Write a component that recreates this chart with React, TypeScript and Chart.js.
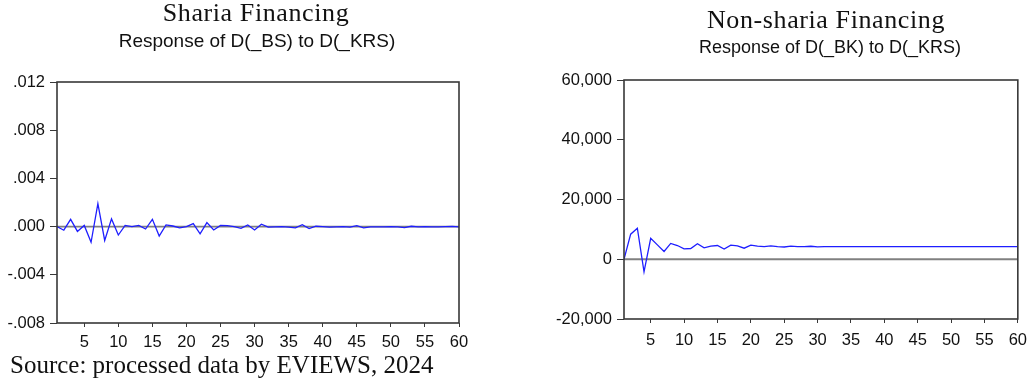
import React, { useEffect, useRef } from "react";
import { Chart, registerables } from "chart.js";

Chart.register(...registerables);

// ---- data ----
const periods: number[] = Array.from({ length: 60 }, (_, i) => i + 1);

const shariaResponse: number[] = [
  0.0, -0.0003, 0.0006, -0.0004, 0.0001, -0.0013, 0.0019, -0.00115, 0.00064, -0.0007,
  0.0001, 0.0, 0.0001, -0.0002, 0.0006, -0.00078, 0.00014, 0.00005, -0.0001, 0.0,
  0.00025, -0.0006, 0.00033, -0.00028, 0.0001, 0.00008, 0.0, -0.00014, 0.00014, -0.00028,
  0.0002, -0.00005, -0.00003, 0.0, -0.00005, -0.0001, 0.00016, -0.00016, 0.00003, 0.0,
  -0.00005, -0.00002, 0.0, -0.00005, 0.00008, -0.0001, -0.00002, -0.00002, -0.00002, 0.0,
  -0.00002, -0.00008, 0.00003, -0.00002, 0.0, -0.00003, -0.00002, 0.0, 0.00002, -0.00002,
];

const nonShariaResponse: number[] = [
  0, 8400, 10400, -4200, 7000, 4800, 2600, 5300, 4600, 3500,
  3600, 5200, 3800, 4400, 4600, 3400, 4700, 4500, 3700, 4700,
  4400, 4200, 4500, 4200, 4100, 4400, 4200, 4200, 4350, 4150,
  4200, 4250, 4200, 4200, 4250, 4200, 4250, 4200, 4200, 4250,
  4250, 4250, 4250, 4250, 4250, 4250, 4250, 4250, 4250, 4250,
  4250, 4250, 4250, 4250, 4250, 4250, 4250, 4250, 4250, 4250,
];

const xTicks: number[] = [5, 10, 15, 20, 25, 30, 35, 40, 45, 50, 55, 60];
const shariaYTicks: number[] = [-0.008, -0.004, 0, 0.004, 0.008, 0.012];
const nonShariaYTicks: number[] = [-20000, 0, 20000, 40000, 60000];

const shariaTitle = "Sharia Financing";
const shariaSubtitle = "Response of D(_BS) to D(_KRS)";
const nonShariaTitle = "Non-sharia Financing";
const nonShariaSubtitle = "Response of D(_BK) to D(_KRS)";
const sourceText = "Source: processed data by EVIEWS, 2024";

// ---- helpers ----
const fmtSharia = (v: number) => {
  const s = Math.abs(v).toFixed(3).replace(/^0/, "");
  return (v < -1e-12 ? "-" : "") + s;
};
const fmtNonSharia = (v: number) => {
  if (Math.abs(v) < 1e-9) return "0";
  return (v < 0 ? "-" : "") + Math.abs(v).toLocaleString("en-US");
};

const framePlugin = {
  id: "evFrame",
  beforeDatasetsDraw(chart: any) {
    const { ctx, chartArea: a, scales } = chart;
    const y0 = scales.y.getPixelForValue(0);
    ctx.save();
    ctx.strokeStyle = "#808080";
    ctx.lineWidth = 1.8;
    ctx.beginPath();
    ctx.moveTo(a.left, y0);
    ctx.lineTo(a.right, y0);
    ctx.stroke();
    ctx.restore();
  },
  afterDatasetsDraw(chart: any) {
    const { ctx, chartArea: a } = chart;
    ctx.save();
    ctx.strokeStyle = "#383838";
    ctx.lineWidth = 1.6;
    ctx.strokeRect(a.left, a.top, a.right - a.left, a.bottom - a.top);
    ctx.restore();
  },
};

type PanelProps = {
  values: number[];
  yTicks: number[];
  fmt: (v: number) => string;
  yWidth: number;
  xHeight: number;
  padTop: number;
  padRight: number;
  width: number;
  height: number;
  fontSize: number;
  xPad: number;
  yPad: number;
};

function Panel(p: PanelProps) {
  const ref = useRef<HTMLCanvasElement | null>(null);
  useEffect(() => {
    if (!ref.current) return;
    const font = { family: "'Liberation Sans', Arial, sans-serif", size: p.fontSize };
    const chart = new Chart(ref.current, {
      type: "line",
      data: {
        datasets: [
          {
            data: periods.map((x, i) => ({ x, y: p.values[i] })),
            borderColor: "#1e1eff",
            borderWidth: 1.3,
            pointRadius: 0,
            tension: 0,
            fill: false,
          },
        ],
      },
      options: {
        animation: false,
        responsive: false,
        maintainAspectRatio: false,
        layout: { padding: { top: p.padTop, right: p.padRight, left: 0, bottom: 0 } },
        plugins: { legend: { display: false }, tooltip: { enabled: false }, title: { display: false } },
        scales: {
          x: {
            type: "linear",
            min: 1,
            max: 60,
            border: { display: false },
            grid: { drawOnChartArea: false, drawTicks: true, tickLength: 4, color: "#383838", lineWidth: 1 },
            afterBuildTicks: (s: any) => {
              s.ticks = xTicks.map((v) => ({ value: v }));
            },
            afterFit: (s: any) => {
              s.height = p.xHeight;
            },
            ticks: { color: "#111", font, padding: p.xPad, maxRotation: 0, autoSkip: false, callback: (v: any) => String(v) },
          },
          y: {
            type: "linear",
            min: p.yTicks[0],
            max: p.yTicks[p.yTicks.length - 1],
            border: { display: false },
            grid: { drawOnChartArea: false, drawTicks: true, tickLength: 7, color: "#383838", lineWidth: 1 },
            afterBuildTicks: (s: any) => {
              s.ticks = p.yTicks.map((v) => ({ value: v }));
            },
            afterFit: (s: any) => {
              s.width = p.yWidth;
            },
            ticks: { color: "#111", font, padding: p.yPad, callback: (v: any) => p.fmt(Number(v)) },
          },
        },
      },
      plugins: [framePlugin],
    } as any);
    return () => chart.destroy();
  }, []);
  return <canvas ref={ref} width={p.width} height={p.height} style={{ width: p.width, height: p.height, display: "block" }} />;
}

const serif = "'Liberation Serif', 'Times New Roman', serif";
const sans = "'Liberation Sans', Arial, sans-serif";

function Text(props: { text: string; cx?: number; left?: number; top: number; size: number; family: string; spacing?: number }) {
  const { text, cx, left, top, size, family, spacing } = props;
  const style: React.CSSProperties = {
    position: "absolute",
    top,
    fontFamily: family,
    fontSize: size,
    lineHeight: `${size}px`,
    color: "#111",
    whiteSpace: "nowrap",
    letterSpacing: spacing ? `${spacing}px` : undefined,
  };
  if (cx !== undefined) {
    style.left = cx - 250;
    style.width = 500;
    style.textAlign = "center";
  } else {
    style.left = left;
  }
  return <div style={style}>{text}</div>;
}

export default function App() {
  return (
    <div style={{ position: "fixed", left: 0, top: 0, width: 1035, height: 380, background: "#fff", overflow: "hidden" }}>
      <div style={{ position: "absolute", left: 0, top: 0 }}>
        <Panel values={shariaResponse} yTicks={shariaYTicks} fmt={fmtSharia} yWidth={57} xHeight={37} padTop={82} padRight={21} width={480} height={360} fontSize={16.5} xPad={6} yPad={5} />
      </div>
      <div style={{ position: "absolute", left: 520, top: 0 }}>
        <Panel values={nonShariaResponse} yTicks={nonShariaYTicks} fmt={fmtNonSharia} yWidth={104} xHeight={41} padTop={80} padRight={9} width={515} height={360} fontSize={16.5} xPad={8} yPad={5} />
      </div>
      <Text text={shariaTitle} cx={256} top={0} size={26} family={serif} spacing={0.6} />
      <Text text={shariaSubtitle} cx={257} top={31} size={19} family={sans} />
      <Text text={nonShariaTitle} cx={826} top={7} size={26} family={serif} spacing={0.6} />
      <Text text={nonShariaSubtitle} cx={830} top={38} size={18} family={sans} />
      <Text text={sourceText} left={10} top={352} size={25} family={serif} />
    </div>
  );
}
